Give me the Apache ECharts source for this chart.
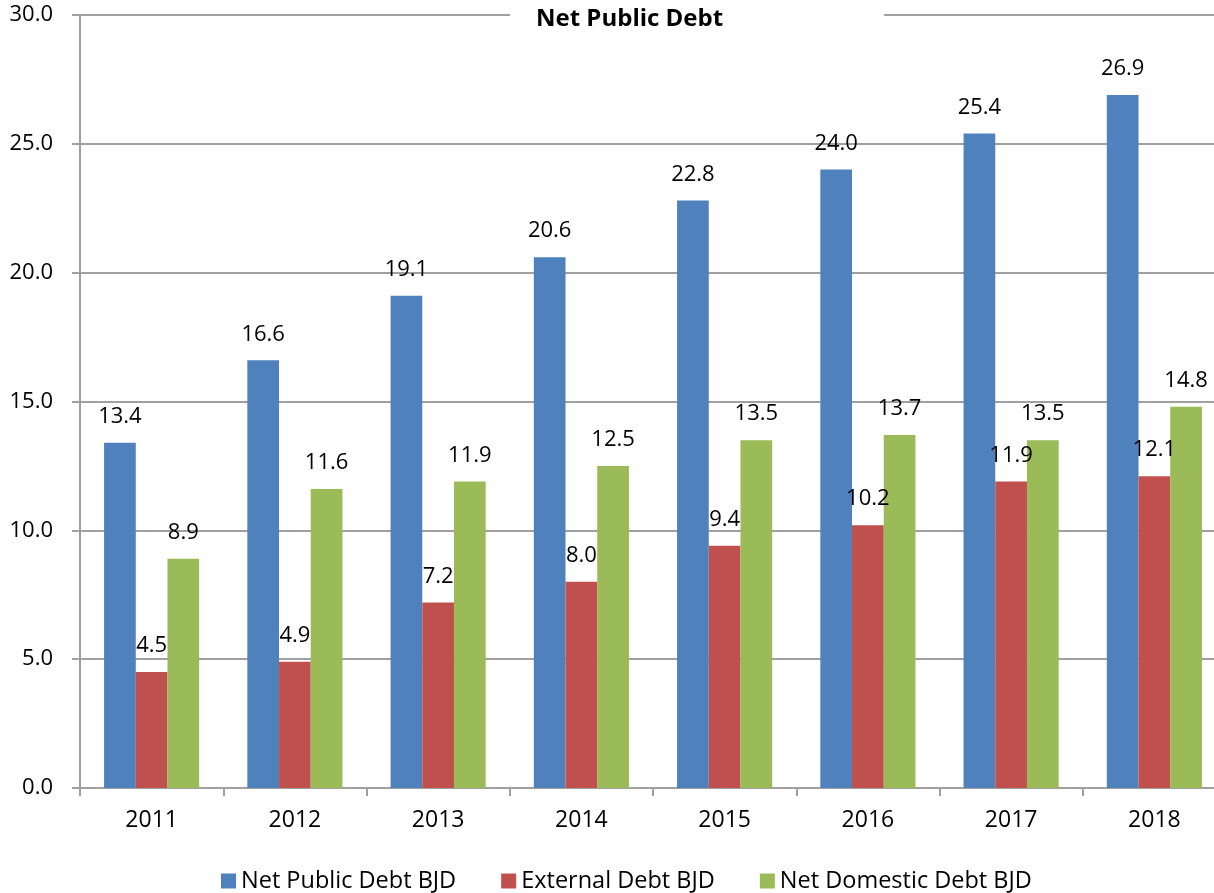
<!DOCTYPE html>
<html>
<head>
<meta charset="utf-8">
<script src="https://cdn.jsdelivr.net/npm/echarts@6/dist/echarts.min.js"></script>
<style>
  html, body { margin: 0; padding: 0; background: #fff; }
  #chart { width: 1214px; height: 893px; }
</style>
</head>
<body>
<div id="chart"></div>
<script>
const years = ['2011', '2012', '2013', '2014', '2015', '2016', '2017', '2018'];
const netPublicDebt = [13.4, 16.6, 19.1, 20.6, 22.8, 24.0, 25.4, 26.9];
const externalDebt = [4.5, 4.9, 7.2, 8.0, 9.4, 10.2, 11.9, 12.1];
const netDomesticDebt = [8.9, 11.6, 11.9, 12.5, 13.5, 13.7, 13.5, 14.8];
const seriesNames = ['Net Public Debt BJD', 'External Debt BJD', 'Net Domestic Debt BJD'];

const font = 'Open Sans';
const gridColor = '#a0a0a0';

const chart = echarts.init(document.getElementById('chart'), null, { renderer: 'canvas' });

function barSeries(name, data, color) {
  return {
    name: name,
    type: 'bar',
    data: data,
    barGap: '0%',
    barCategoryGap: '33.6%',
    itemStyle: { color: color },
    label: {
      show: true,
      position: 'top',
      distance: 15,
      color: '#000',
      fontFamily: font,
      fontSize: 22,
      formatter: (p) => p.value.toFixed(1),
    },
  };
}

chart.setOption({
  animation: false,
  backgroundColor: '#fff',
  title: {
    text: 'Net Public Debt',
    left: 510,
    top: 3,
    padding: [4, 161, 4, 26],
    backgroundColor: '#fff',
    textStyle: { fontFamily: font, fontSize: 24, fontWeight: 'bold', color: '#000' },
  },
  legend: {
    data: seriesNames,
    left: 221,
    top: 869,
    padding: 0,
    itemWidth: 15,
    itemHeight: 15,
    itemGap: 45,
    icon: 'rect',
    textStyle: { fontFamily: font, fontSize: 23.5, color: '#000' },
  },
  grid: {
    left: 80,
    top: 15,
    width: 1146,
    height: 773,
    containLabel: false,
    outerBoundsMode: 'none',
  },
  xAxis: {
    type: 'category',
    data: years,
    axisLine: { show: true, lineStyle: { color: gridColor, width: 2 } },
    axisTick: { show: true, length: 8, lineStyle: { color: gridColor, width: 2 } },
    axisLabel: { color: '#000', fontFamily: font, fontSize: 23, margin: 21 },
  },
  yAxis: {
    type: 'value',
    min: 0,
    max: 30,
    interval: 5,
    axisLine: { show: true, lineStyle: { color: gridColor, width: 2 } },
    axisTick: { show: true, length: 8, lineStyle: { color: gridColor, width: 2 } },
    axisLabel: {
      color: '#000',
      fontFamily: font,
      fontSize: 22,
      margin: 27,
      formatter: (v) => v.toFixed(1),
    },
    splitLine: { show: true, lineStyle: { color: gridColor, width: 2 } },
  },
  series: [
    barSeries(seriesNames[0], netPublicDebt, '#4f81bd'),
    barSeries(seriesNames[1], externalDebt, '#c0504d'),
    barSeries(seriesNames[2], netDomesticDebt, '#9bbb59'),
  ],
});
</script>
</body>
</html>
